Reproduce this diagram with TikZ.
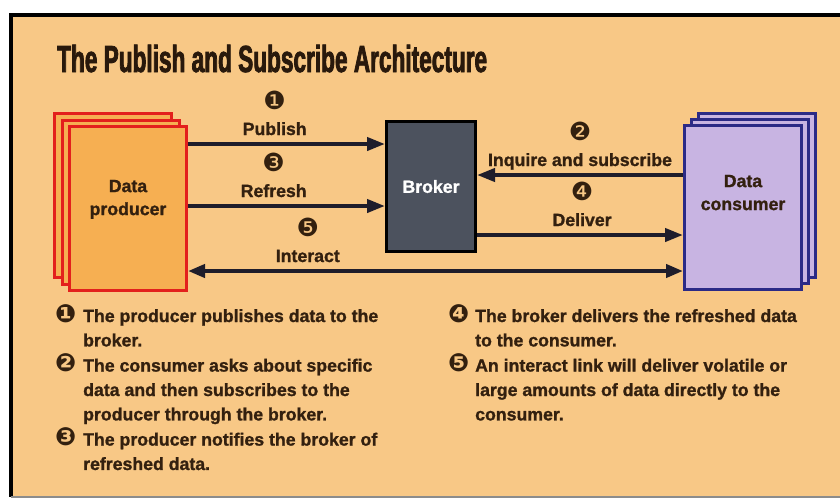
\documentclass[tikz,border=0pt]{standalone}
\usepackage{fontspec}
\setmainfont{Liberation Sans}[BoldFeatures={FakeBold=1.2}]
\newfontfamily\numfont{DejaVu Sans}
\newfontfamily\titlefont[FakeStretch=0.6, BoldFeatures={FakeBold=2}]{Liberation Sans}
\usepackage{xcolor}
\usepackage{tikz}
\usetikzlibrary{positioning, arrows.meta, shadows}

\definecolor{bgpeach}{HTML}{F8C886}
\definecolor{prodfill}{HTML}{F6AF52}
\definecolor{prodred}{HTML}{E3201C}
\definecolor{brokergray}{HTML}{4C525E}
\definecolor{consfill}{HTML}{C8B4E2}
\definecolor{consblue}{HTML}{2B2A86}
\definecolor{inkbrown}{HTML}{33200F}
\definecolor{arrowink}{HTML}{1F1D2B}

\newcommand{\cn}[1]{{\numfont\fontsize{25}{17}\selectfont #1}}

\begin{document}
\begin{tikzpicture}[
x=1pt, y=1pt,
every node/.style={font=\bfseries\fontsize{17.7}{23}\selectfont, text=inkbrown},
titletext/.style={font=\titlefont\bfseries\fontsize{37.7}{40}\selectfont, text=inkbrown!80!black, inner sep=0pt},
stackbox/.style={line width=3pt, minimum width=117pt, minimum height=164pt, align=center, inner sep=0pt},
prodbox/.style={stackbox, draw=prodred, fill=prodfill, text depth=22pt,
  copy shadow={shadow xshift=-15pt, shadow yshift=13pt, fill=prodfill, draw=prodred, line width=3pt},
  copy shadow={shadow xshift=-7.5pt, shadow yshift=6.5pt, fill=prodfill, draw=prodred, line width=3pt}},
consbox/.style={stackbox, draw=consblue, fill=consfill, text depth=30pt,
  copy shadow={shadow xshift=14pt, shadow yshift=12pt, fill=consfill, draw=consblue, line width=3pt},
  copy shadow={shadow xshift=7pt, shadow yshift=6pt, fill=consfill, draw=consblue, line width=3pt}},
brokerbox/.style={draw=black, fill=brokergray, line width=3pt, text=white, minimum width=89pt, minimum height=130pt},
flow/.style={line width=4pt, draw=arrowink, -{Triangle[length=18pt, width=13pt]}},
twoway/.style={line width=4pt, draw=arrowink, {Triangle[length=17pt, width=13pt]}-{Triangle[length=17pt, width=13pt]}},
lab/.style={anchor=base, yshift=9pt},
num/.style={anchor=base, font=\numfont\fontsize{25}{25}\selectfont},
legend/.style={anchor=base west, inner sep=0pt, font=\bfseries\fontsize{17.7}{24.4}\selectfont}
]
\useasboundingbox (0,0) rectangle (840,-499);
% frame
\fill[bgpeach] (11,-15) rectangle (840,-497);
\draw[line width=4.5pt] (840,-15) -- (11,-15) -- (11,-497);
\draw[line width=1.5pt, black!45] (11,-497) -- (840,-497);

\node[titletext, anchor=base west] (title) at (57,-72) {The Publish and Subscribe Architecture};

% parties
\node[prodbox] (prod) at (128,-208.5) {Data\\producer};
\node[brokerbox] (broker) at (431,-186.5) {Broker};
\node[consbox] (cons) at (743,-207.5) {Data\\consumer};

% messages
\draw[flow] (prod.east |- 0,-144) -- node[lab, pos=.44] (publab) {Publish} (broker.west |- 0,-144);
\draw[flow] (prod.east |- 0,-206) -- node[lab, pos=.435] (reflab) {Refresh} (broker.west |- 0,-206);
\draw[flow] (cons.west |- 0,-175) -- node[lab, pos=.5] (inqlab) {Inquire and subscribe} (broker.east |- 0,-175);
\draw[flow] (broker.east |- 0,-235) -- node[lab, pos=.51] (dellab) {Deliver} (cons.west |- 0,-235);
\draw[twoway] (prod.east |- 0,-271) -- node[lab, pos=.242] (intlab) {Interact} (cons.west |- 0,-271);

\node[num] (n1) at ([yshift=26pt]publab.base) {❶};
\node[num] (n2) at ([yshift=26pt]inqlab.base) {❷};
\node[num] (n3) at ([yshift=26pt]reflab.base) {❸};
\node[num] (n4) at ([yshift=26pt]dellab.base) {❹};
\node[num] (n5) at ([yshift=26pt]intlab.base) {❺};

% notes
\node[legend] (notesL) at (55,-322) {\begin{tabular}[t]{@{}p{28pt}@{}l@{}}
\cn{❶} & The producer publishes data to the\\
 & broker.\\
\cn{❷} & The consumer asks about specific\\
 & data and then subscribes to the\\
 & producer through the broker.\\
\cn{❸} & The producer notifies the broker of\\
 & refreshed data.
\end{tabular}};
\node[legend] (notesR) at (448,-322) {\begin{tabular}[t]{@{}p{27pt}@{}l@{}}
\cn{❹} & The broker delivers the refreshed data\\
 & to the consumer.\\
\cn{❺} & An interact link will deliver volatile or\\
 & large amounts of data directly to the\\
 & consumer.
\end{tabular}};
\end{tikzpicture}
\end{document}
